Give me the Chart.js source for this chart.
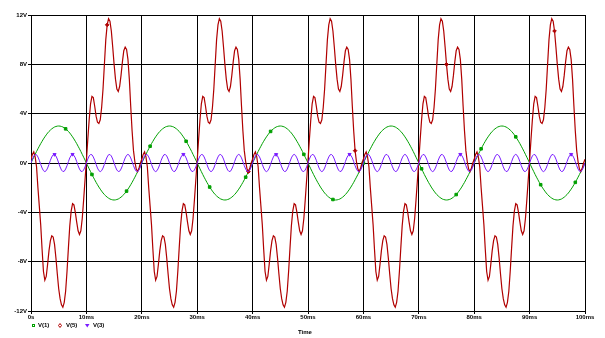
<!DOCTYPE html>
<html>
<head>
<meta charset="utf-8">
<title>Transient</title>
<script src="https://cdn.jsdelivr.net/npm/chart.js@4.4.0/dist/chart.umd.min.js"></script>
<style>
  html, body { margin: 0; padding: 0; background: #ffffff; }
</style>
</head>
<body>
<canvas id="scopeChart" width="605" height="338"></canvas>
<script>
// axis labels as the plotter prints them
const xTickLabels = ["0s", "10ms", "20ms", "30ms", "40ms", "50ms", "60ms", "70ms", "80ms", "90ms", "100ms"];
const yTickLabels = ["-12V", "-8V", "-4V", "0V", "4V", "8V", "12V"];
const seriesNames = ["V(1)", "V(5)", "V(3)"];

// samples every 0.25 ms, 0 .. 100 ms
const timeStepMs = 0.25;
const timesMs = Array.from({ length: 401 }, (_, i) => i * timeStepMs);

// V(1) - green, volts
const v1 = [
    0, 0.24, 0.47, 0.7, 0.93, 1.15, 1.36, 1.57, 1.76, 1.95, 2.12, 2.28, 2.43, 2.56, 2.67, 2.77, 2.85, 2.92, 2.96, 2.99, 3, 2.99, 2.96, 2.92, 2.85, 2.77, 2.67, 2.56, 2.43, 2.28, 2.12, 1.95, 1.76, 1.57, 1.36, 1.15, 0.93, 0.7, 0.47, 0.24,
    0, -0.24, -0.47, -0.7, -0.93, -1.15, -1.36, -1.57, -1.76, -1.95, -2.12, -2.28, -2.43, -2.56, -2.67, -2.77, -2.85, -2.92, -2.96, -2.99, -3, -2.99, -2.96, -2.92, -2.85, -2.77, -2.67, -2.56, -2.43, -2.28, -2.12, -1.95, -1.76, -1.57, -1.36, -1.15, -0.93, -0.7, -0.47, -0.24,
    0, 0.24, 0.47, 0.7, 0.93, 1.15, 1.36, 1.57, 1.76, 1.95, 2.12, 2.28, 2.43, 2.56, 2.67, 2.77, 2.85, 2.92, 2.96, 2.99, 3, 2.99, 2.96, 2.92, 2.85, 2.77, 2.67, 2.56, 2.43, 2.28, 2.12, 1.95, 1.76, 1.57, 1.36, 1.15, 0.93, 0.7, 0.47, 0.24,
    0, -0.24, -0.47, -0.7, -0.93, -1.15, -1.36, -1.57, -1.76, -1.95, -2.12, -2.28, -2.43, -2.56, -2.67, -2.77, -2.85, -2.92, -2.96, -2.99, -3, -2.99, -2.96, -2.92, -2.85, -2.77, -2.67, -2.56, -2.43, -2.28, -2.12, -1.95, -1.76, -1.57, -1.36, -1.15, -0.93, -0.7, -0.47, -0.24,
    0, 0.24, 0.47, 0.7, 0.93, 1.15, 1.36, 1.57, 1.76, 1.95, 2.12, 2.28, 2.43, 2.56, 2.67, 2.77, 2.85, 2.92, 2.96, 2.99, 3, 2.99, 2.96, 2.92, 2.85, 2.77, 2.67, 2.56, 2.43, 2.28, 2.12, 1.95, 1.76, 1.57, 1.36, 1.15, 0.93, 0.7, 0.47, 0.24,
    0, -0.24, -0.47, -0.7, -0.93, -1.15, -1.36, -1.57, -1.76, -1.95, -2.12, -2.28, -2.43, -2.56, -2.67, -2.77, -2.85, -2.92, -2.96, -2.99, -3, -2.99, -2.96, -2.92, -2.85, -2.77, -2.67, -2.56, -2.43, -2.28, -2.12, -1.95, -1.76, -1.57, -1.36, -1.15, -0.93, -0.7, -0.47, -0.24,
    0, 0.24, 0.47, 0.7, 0.93, 1.15, 1.36, 1.57, 1.76, 1.95, 2.12, 2.28, 2.43, 2.56, 2.67, 2.77, 2.85, 2.92, 2.96, 2.99, 3, 2.99, 2.96, 2.92, 2.85, 2.77, 2.67, 2.56, 2.43, 2.28, 2.12, 1.95, 1.76, 1.57, 1.36, 1.15, 0.93, 0.7, 0.47, 0.24,
    0, -0.24, -0.47, -0.7, -0.93, -1.15, -1.36, -1.57, -1.76, -1.95, -2.12, -2.28, -2.43, -2.56, -2.67, -2.77, -2.85, -2.92, -2.96, -2.99, -3, -2.99, -2.96, -2.92, -2.85, -2.77, -2.67, -2.56, -2.43, -2.28, -2.12, -1.95, -1.76, -1.57, -1.36, -1.15, -0.93, -0.7, -0.47, -0.24,
    0, 0.24, 0.47, 0.7, 0.93, 1.15, 1.36, 1.57, 1.76, 1.95, 2.12, 2.28, 2.43, 2.56, 2.67, 2.77, 2.85, 2.92, 2.96, 2.99, 3, 2.99, 2.96, 2.92, 2.85, 2.77, 2.67, 2.56, 2.43, 2.28, 2.12, 1.95, 1.76, 1.57, 1.36, 1.15, 0.93, 0.7, 0.47, 0.24,
    0, -0.24, -0.47, -0.7, -0.93, -1.15, -1.36, -1.57, -1.76, -1.95, -2.12, -2.28, -2.43, -2.56, -2.67, -2.77, -2.85, -2.92, -2.96, -2.99, -3, -2.99, -2.96, -2.92, -2.85, -2.77, -2.67, -2.56, -2.43, -2.28, -2.12, -1.95, -1.76, -1.57, -1.36, -1.15, -0.93, -0.7, -0.47, -0.24,
    0
];

// V(3) - blue, volts
const v3 = [
    0, 0.32, 0.57, 0.69, 0.67, 0.49, 0.22, -0.11, -0.41, -0.62, -0.7, -0.62, -0.41, -0.11, 0.22, 0.49, 0.67, 0.69, 0.57, 0.32, 0, -0.32, -0.57, -0.69, -0.67, -0.49, -0.22, 0.11, 0.41, 0.62, 0.7, 0.62, 0.41, 0.11, -0.22, -0.49, -0.67, -0.69, -0.57, -0.32,
    0, 0.32, 0.57, 0.69, 0.67, 0.49, 0.22, -0.11, -0.41, -0.62, -0.7, -0.62, -0.41, -0.11, 0.22, 0.49, 0.67, 0.69, 0.57, 0.32, 0, -0.32, -0.57, -0.69, -0.67, -0.49, -0.22, 0.11, 0.41, 0.62, 0.7, 0.62, 0.41, 0.11, -0.22, -0.49, -0.67, -0.69, -0.57, -0.32,
    0, 0.32, 0.57, 0.69, 0.67, 0.49, 0.22, -0.11, -0.41, -0.62, -0.7, -0.62, -0.41, -0.11, 0.22, 0.49, 0.67, 0.69, 0.57, 0.32, 0, -0.32, -0.57, -0.69, -0.67, -0.49, -0.22, 0.11, 0.41, 0.62, 0.7, 0.62, 0.41, 0.11, -0.22, -0.49, -0.67, -0.69, -0.57, -0.32,
    0, 0.32, 0.57, 0.69, 0.67, 0.49, 0.22, -0.11, -0.41, -0.62, -0.7, -0.62, -0.41, -0.11, 0.22, 0.49, 0.67, 0.69, 0.57, 0.32, 0, -0.32, -0.57, -0.69, -0.67, -0.49, -0.22, 0.11, 0.41, 0.62, 0.7, 0.62, 0.41, 0.11, -0.22, -0.49, -0.67, -0.69, -0.57, -0.32,
    0, 0.32, 0.57, 0.69, 0.67, 0.49, 0.22, -0.11, -0.41, -0.62, -0.7, -0.62, -0.41, -0.11, 0.22, 0.49, 0.67, 0.69, 0.57, 0.32, 0, -0.32, -0.57, -0.69, -0.67, -0.49, -0.22, 0.11, 0.41, 0.62, 0.7, 0.62, 0.41, 0.11, -0.22, -0.49, -0.67, -0.69, -0.57, -0.32,
    0, 0.32, 0.57, 0.69, 0.67, 0.49, 0.22, -0.11, -0.41, -0.62, -0.7, -0.62, -0.41, -0.11, 0.22, 0.49, 0.67, 0.69, 0.57, 0.32, 0, -0.32, -0.57, -0.69, -0.67, -0.49, -0.22, 0.11, 0.41, 0.62, 0.7, 0.62, 0.41, 0.11, -0.22, -0.49, -0.67, -0.69, -0.57, -0.32,
    0, 0.32, 0.57, 0.69, 0.67, 0.49, 0.22, -0.11, -0.41, -0.62, -0.7, -0.62, -0.41, -0.11, 0.22, 0.49, 0.67, 0.69, 0.57, 0.32, 0, -0.32, -0.57, -0.69, -0.67, -0.49, -0.22, 0.11, 0.41, 0.62, 0.7, 0.62, 0.41, 0.11, -0.22, -0.49, -0.67, -0.69, -0.57, -0.32,
    0, 0.32, 0.57, 0.69, 0.67, 0.49, 0.22, -0.11, -0.41, -0.62, -0.7, -0.62, -0.41, -0.11, 0.22, 0.49, 0.67, 0.69, 0.57, 0.32, 0, -0.32, -0.57, -0.69, -0.67, -0.49, -0.22, 0.11, 0.41, 0.62, 0.7, 0.62, 0.41, 0.11, -0.22, -0.49, -0.67, -0.69, -0.57, -0.32,
    0, 0.32, 0.57, 0.69, 0.67, 0.49, 0.22, -0.11, -0.41, -0.62, -0.7, -0.62, -0.41, -0.11, 0.22, 0.49, 0.67, 0.69, 0.57, 0.32, 0, -0.32, -0.57, -0.69, -0.67, -0.49, -0.22, 0.11, 0.41, 0.62, 0.7, 0.62, 0.41, 0.11, -0.22, -0.49, -0.67, -0.69, -0.57, -0.32,
    0, 0.32, 0.57, 0.69, 0.67, 0.49, 0.22, -0.11, -0.41, -0.62, -0.7, -0.62, -0.41, -0.11, 0.22, 0.49, 0.67, 0.69, 0.57, 0.32, 0, -0.32, -0.57, -0.69, -0.67, -0.49, -0.22, 0.11, 0.41, 0.62, 0.7, 0.62, 0.41, 0.11, -0.22, -0.49, -0.67, -0.69, -0.57, -0.32,
    0
];

// V(5) - red, volts (one line = 20 ms)
const v5 = [
    0.3, 0.7, 0.9, 0.5, -0.3, -2, -3.5, -5, -7, -8.8, -9.5, -9.2, -8.2, -7.1, -6.3, -5.9, -6, -6.6, -7.7, -9, -10.2, -11, -11.5, -11.7, -11.3, -10.4, -8.8, -6.9, -5.1, -3.9, -3.3, -3.4, -4, -4.8, -5.5, -5.8, -5.5, -4.5, -3, -1.4, 0.2, 1.9, 3.5, 4.8, 5.4, 5.3, 4.6, 3.8, 3.3, 3.2, 3.5, 4.5, 6, 8, 10, 11.2, 11.7, 11.5, 10.7, 9.4, 8, 6.8, 6, 5.8, 6.2, 7.1, 8.2, 9.1, 9.4, 9.2, 8.4, 6.8, 4.6, 2.6, 1, 0.1, -0.5, -0.7, -0.4, 0,
    0.3, 0.7, 0.9, 0.5, -0.3, -2, -3.5, -5, -7, -8.8, -9.5, -9.2, -8.2, -7.1, -6.3, -5.9, -6, -6.6, -7.7, -9, -10.2, -11, -11.5, -11.7, -11.3, -10.4, -8.8, -6.9, -5.1, -3.9, -3.3, -3.4, -4, -4.8, -5.5, -5.8, -5.5, -4.5, -3, -1.4, 0.2, 1.9, 3.5, 4.8, 5.4, 5.3, 4.6, 3.8, 3.3, 3.2, 3.5, 4.5, 6, 8, 10, 11.2, 11.7, 11.5, 10.7, 9.4, 8, 6.8, 6, 5.8, 6.2, 7.1, 8.2, 9.1, 9.4, 9.2, 8.4, 6.8, 4.6, 2.6, 1, 0.1, -0.5, -0.7, -0.4, 0,
    0.3, 0.7, 0.9, 0.5, -0.3, -2, -3.5, -5, -7, -8.8, -9.5, -9.2, -8.2, -7.1, -6.3, -5.9, -6, -6.6, -7.7, -9, -10.2, -11, -11.5, -11.7, -11.3, -10.4, -8.8, -6.9, -5.1, -3.9, -3.3, -3.4, -4, -4.8, -5.5, -5.8, -5.5, -4.5, -3, -1.4, 0.2, 1.9, 3.5, 4.8, 5.4, 5.3, 4.6, 3.8, 3.3, 3.2, 3.5, 4.5, 6, 8, 10, 11.2, 11.7, 11.5, 10.7, 9.4, 8, 6.8, 6, 5.8, 6.2, 7.1, 8.2, 9.1, 9.4, 9.2, 8.4, 6.8, 4.6, 2.6, 1, 0.1, -0.5, -0.7, -0.4, 0,
    0.3, 0.7, 0.9, 0.5, -0.3, -2, -3.5, -5, -7, -8.8, -9.5, -9.2, -8.2, -7.1, -6.3, -5.9, -6, -6.6, -7.7, -9, -10.2, -11, -11.5, -11.7, -11.3, -10.4, -8.8, -6.9, -5.1, -3.9, -3.3, -3.4, -4, -4.8, -5.5, -5.8, -5.5, -4.5, -3, -1.4, 0.2, 1.9, 3.5, 4.8, 5.4, 5.3, 4.6, 3.8, 3.3, 3.2, 3.5, 4.5, 6, 8, 10, 11.2, 11.7, 11.5, 10.7, 9.4, 8, 6.8, 6, 5.8, 6.2, 7.1, 8.2, 9.1, 9.4, 9.2, 8.4, 6.8, 4.6, 2.6, 1, 0.1, -0.5, -0.7, -0.4, 0,
    0.3, 0.7, 0.9, 0.5, -0.3, -2, -3.5, -5, -7, -8.8, -9.5, -9.2, -8.2, -7.1, -6.3, -5.9, -6, -6.6, -7.7, -9, -10.2, -11, -11.5, -11.7, -11.3, -10.4, -8.8, -6.9, -5.1, -3.9, -3.3, -3.4, -4, -4.8, -5.5, -5.8, -5.5, -4.5, -3, -1.4, 0.2, 1.9, 3.5, 4.8, 5.4, 5.3, 4.6, 3.8, 3.3, 3.2, 3.5, 4.5, 6, 8, 10, 11.2, 11.7, 11.5, 10.7, 9.4, 8, 6.8, 6, 5.8, 6.2, 7.1, 8.2, 9.1, 9.4, 9.2, 8.4, 6.8, 4.6, 2.6, 1, 0.1, -0.5, -0.7, -0.4, 0,
    0.3
];

// sample indices where the plotter drew its trace symbols
const v1Marks = [25, 44, 69, 86, 112, 129, 155, 173, 197, 218, 240, 282, 307, 325, 350, 368, 393];
const v5Marks = [55, 157, 234, 300, 378];
const v3Marks = [17, 30, 110, 177, 230, 310, 390];

const colors = { v1: "#00a000", v5: "#b00000", v3: "#7a1cff" };
const labelFont = "bold 6px 'Liberation Sans'";

const toPoints = (vals) => vals.map((v, i) => ({ x: timesMs[i], y: v }));
const markRadius = (marks) => (ctx) => (marks.includes(ctx.dataIndex) ? 1.8 : 0);

// legend + "Time" under the axis, the way the plotter lays it out
const bottomTexts = {
    id: "bottomTexts",
    afterDraw(chart) {
        const c = chart.ctx;
        c.save();
        c.font = labelFont;
        c.fillStyle = "#000000";
        c.textBaseline = "middle";
        c.textAlign = "left";

        // V(1): hollow green square
        c.strokeStyle = colors.v1;
        c.lineWidth = 1;
        c.strokeRect(32.5, 324.5, 2, 2);
        c.fillText(seriesNames[0], 38, 325.5);

        // V(5): red diamond
        c.beginPath();
        c.moveTo(60, 323.5); c.lineTo(61.5, 325.5); c.lineTo(60, 327.5); c.lineTo(58.5, 325.5); c.closePath();
        c.strokeStyle = colors.v5;
        c.stroke();
        c.fillText(seriesNames[1], 66, 325.5);

        // V(3): blue triangle pointing down
        c.beginPath();
        c.moveTo(85, 324); c.lineTo(89.5, 324); c.lineTo(87.25, 327.5); c.closePath();
        c.fillStyle = colors.v3;
        c.fill();
        c.fillStyle = "#000000";
        c.fillText(seriesNames[2], 93, 325.5);

        c.textAlign = "center";
        c.fillText("Time", 305, 332.5);
        c.restore();
    }
};

new Chart(document.getElementById("scopeChart").getContext("2d"), {
    type: "line",
    data: {
        datasets: [
            {
                label: seriesNames[2],
                data: toPoints(v3),
                borderColor: colors.v3,
                backgroundColor: colors.v3,
                borderWidth: 1,
                pointStyle: "triangle",
                rotation: 180,
                pointRadius: markRadius(v3Marks),
                pointBorderWidth: 1
            },
            {
                label: seriesNames[1],
                data: toPoints(v5),
                borderColor: colors.v5,
                backgroundColor: colors.v5,
                borderWidth: 1.2,
                pointStyle: "rectRot",
                pointRadius: markRadius(v5Marks),
                pointBorderWidth: 1
            },
            {
                label: seriesNames[0],
                data: toPoints(v1),
                borderColor: colors.v1,
                backgroundColor: colors.v1,
                borderWidth: 1,
                pointStyle: "rect",
                pointRadius: markRadius(v1Marks),
                pointBorderWidth: 1
            }
        ]
    },
    options: {
        responsive: false,
        animation: false,
        devicePixelRatio: 1,
        layout: { padding: { left: 0, top: 15, right: 20, bottom: 0 } },
        elements: { line: { tension: 0, fill: false } },
        scales: {
            x: {
                type: "linear",
                min: 0,
                max: 100,
                afterFit(scale) {
                    scale.height = 27;
                    scale.paddingLeft = 0;
                    scale.paddingRight = 0;
                },
                grid: { color: "#000000", lineWidth: 1, tickLength: 3, tickColor: "#000000" },
                border: { color: "#000000", width: 1 },
                ticks: {
                    stepSize: 10,
                    padding: 0,
                    maxRotation: 0,
                    autoSkip: false,
                    color: "#000000",
                    font: { family: "'Liberation Sans'", size: 6, weight: "bold" },
                    callback: (v) => xTickLabels[Math.round(v / 10)]
                }
            },
            y: {
                min: -12,
                max: 12,
                afterFit(scale) {
                    scale.width = 31;
                    scale.paddingTop = 0;
                    scale.paddingBottom = 0;
                },
                grid: { color: "#000000", lineWidth: 1, tickLength: 3, tickColor: "#000000" },
                border: { color: "#000000", width: 1 },
                ticks: {
                    stepSize: 4,
                    padding: 1,
                    autoSkip: false,
                    color: "#000000",
                    font: { family: "'Liberation Sans'", size: 6, weight: "bold" },
                    callback: (v) => yTickLabels[Math.round((v + 12) / 4)]
                }
            }
        },
        plugins: {
            legend: { display: false },
            tooltip: { enabled: false }
        }
    },
    plugins: [bottomTexts]
});
</script>
</body>
</html>
